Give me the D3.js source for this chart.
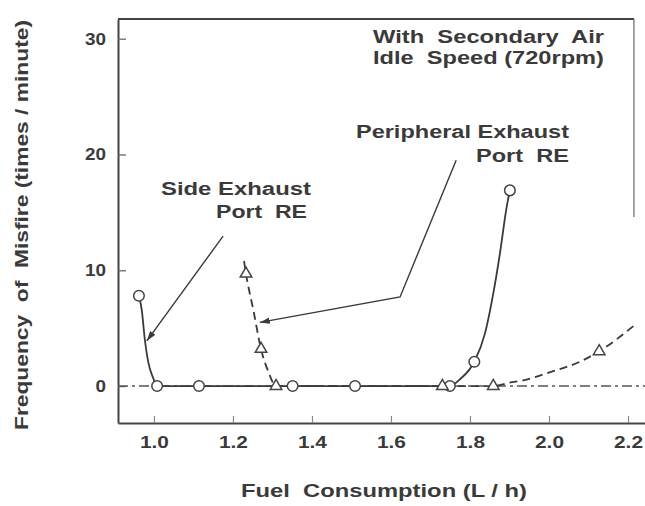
<!DOCTYPE html>
<html><head><meta charset="utf-8">
<script src="https://cdn.jsdelivr.net/npm/d3@7"></script>
<style>
html,body{margin:0;padding:0;background:#fff;}
svg text{font-family:"Liberation Sans",Arial,Helvetica,sans-serif;font-weight:bold;fill:#3a3a3a;white-space:pre;}
</style></head><body>
<svg id="chart" width="645" height="506"></svg>
<script>
// ---- data ----
const xTicks = [1.0, 1.2, 1.4, 1.6, 1.8, 2.0, 2.2];
const yTicks = [0, 10, 20, 30];
const xTickLabels = ["1.0", "1.2", "1.4", "1.6", "1.8", "2.0", "2.2"];
const yTickLabels = ["0", "10", "20", "30"];

// Side Exhaust Port RE (circles, solid curve)
const sideMarkX = [0.962, 1.008, 1.114, 1.351, 1.509, 1.749, 1.811, 1.901];
const sideMarkY = [7.8, 0, 0, 0, 0, 0, 2.1, 16.9];
const sideCurveAX = [0.962, 0.969, 0.977, 0.986, 0.998, 1.008, 1.114, 1.351, 1.509, 1.749, 1.775, 1.811, 1.838, 1.859, 1.876, 1.893, 1.901];
const sideCurveAY = [7.8, 6.6, 4.0, 2.0, 0.7, 0, 0, 0, 0, 0, 0.6, 2.1, 4.55, 8.0, 11.5, 15.5, 16.9];

// Peripheral Exhaust Port RE (triangles, dashed curve)
const periMarkX = [1.233, 1.271, 1.309, 1.730, 1.859, 2.127];
const periMarkY = [9.7, 3.2, 0, 0, 0, 3.0];
const periCurveX = [1.228, 1.233, 1.252, 1.271, 1.290, 1.309, 1.730, 1.859, 1.900, 1.935, 2.003, 2.078, 2.127, 2.218];
const periCurveY = [10.8, 9.7, 6.5, 3.2, 1.2, 0, 0, 0, 0.3, 0.5, 1.2, 2.1, 3.0, 5.3];

// zero reference line
const zeroX = [0.909, 2.243];
const zeroY = [0, 0];

// annotation leader lines (data units)
const sideArrowX = [1.175, 0.982];
const sideArrowY = [12.95, 3.9];
const periArrowX = [1.765, 1.623, 1.268];
const periArrowY = [19.5, 7.7, 5.5];

// annotation texts: [text, x start, x end, baseline y] in data units
const noteText = ["With  Secondary  Air", "Idle  Speed (720rpm)", "Peripheral Exhaust", "Port  RE", "Side Exhaust", "Port  RE"];
const noteX0 = [1.5545, 1.5545, 1.5114, 1.8152, 1.0178, 1.1571];
const noteX1 = [2.1392, 2.1392, 2.0506, 2.0506, 1.3975, 1.3874];
const noteY = [29.67, 27.81, 21.42, 19.35, 16.50, 14.51];

const xTitle = "Fuel  Consumption (L / h)";
const yTitle = "Frequency  of  Misfire (times / minute)";

// ---- drawing ----
const svg = d3.select("#chart");
const ink = "#3a3a3a";
const x = d3.scaleLinear().domain([0.909, 2.243]).range([118, 645]);
const y = d3.scaleLinear().domain([-3.19, 31.7]).range([423, 19]);

svg.append("rect").attr("width", 645).attr("height", 506).attr("fill", "#fff");

const defs = svg.append("defs");
defs.append("marker").attr("id", "arr").attr("markerUnits", "userSpaceOnUse")
  .attr("markerWidth", 11).attr("markerHeight", 8).attr("refX", 10).attr("refY", 4)
  .attr("orient", "auto")
  .append("path").attr("d", "M0,0.8 L10,4 L0,7.2 Z").attr("fill", ink);

// frame: top and right border
svg.append("line").attr("x1", x(0.909)).attr("x2", x(2.215)).attr("y1", y(31.7)).attr("y2", y(31.7))
  .attr("stroke", "#444").attr("stroke-width", 2);
svg.append("line").attr("x1", x(2.215)).attr("x2", x(2.215)).attr("y1", y(31.7)).attr("y2", y(14.6))
  .attr("stroke", "#666").attr("stroke-width", 1.2);

// axes
const xAxis = d3.axisBottom(x).tickValues(xTicks).tickFormat((d, i) => xTickLabels[i])
  .tickSizeInner(-7).tickSizeOuter(0).tickPadding(13);
const gx = svg.append("g").attr("transform", `translate(0,${y(-3.19)})`).call(xAxis);
gx.select(".domain").attr("stroke", "#444").attr("stroke-width", 2.2);
gx.selectAll(".tick line").attr("stroke", "#888").attr("stroke-width", 1.2);
gx.selectAll(".tick text").attr("font-size", 17).attr("fill", ink)
  .attr("textLength", 29).attr("lengthAdjust", "spacingAndGlyphs");

const yAxis = d3.axisLeft(y).tickValues(yTicks).tickFormat((d, i) => yTickLabels[i])
  .tickSizeInner(-8).tickSizeOuter(0).tickPadding(12);
const gy = svg.append("g").attr("transform", `translate(${x(0.909)},0)`).call(yAxis);
gy.select(".domain").attr("stroke", "#444").attr("stroke-width", 2);
gy.selectAll(".tick line").attr("stroke", "#666").attr("stroke-width", 1.3);
gy.selectAll(".tick text").attr("font-size", 17).attr("fill", ink)
  .attr("textLength", (d, i) => yTickLabels[i].length * 10.5).attr("lengthAdjust", "spacingAndGlyphs");

// zero dash-dot line
const line = d3.line().x(d => x(d[0])).y(d => y(d[1]));
svg.append("path").datum(d3.zip(zeroX, zeroY)).attr("d", line)
  .attr("fill", "none").attr("stroke", "#555").attr("stroke-width", 1.6)
  .attr("stroke-dasharray", "10,4,3,4");

// curves
const curve = d3.line().x(d => x(d[0])).y(d => y(d[1])).curve(d3.curveMonotoneX);
svg.append("path").datum(d3.zip(periCurveX, periCurveY)).attr("d", curve)
  .attr("fill", "none").attr("stroke", ink).attr("stroke-width", 1.8)
  .attr("stroke-dasharray", "8,5");
svg.append("path").datum(d3.zip(sideCurveAX, sideCurveAY)).attr("d", curve)
  .attr("fill", "none").attr("stroke", ink).attr("stroke-width", 1.8);

// leader lines
svg.append("path").datum(d3.zip(sideArrowX, sideArrowY)).attr("d", line)
  .attr("fill", "none").attr("stroke", ink).attr("stroke-width", 1.4).attr("marker-end", "url(#arr)");
svg.append("path").datum(d3.zip(periArrowX, periArrowY)).attr("d", line)
  .attr("fill", "none").attr("stroke", ink).attr("stroke-width", 1.4).attr("marker-end", "url(#arr)");

// markers
svg.append("g").selectAll("circle").data(d3.zip(sideMarkX, sideMarkY)).join("circle")
  .attr("cx", d => x(d[0])).attr("cy", d => y(d[1])).attr("r", 5.3)
  .attr("fill", "#fff").attr("stroke", "#444").attr("stroke-width", 1.5);
const tri = d3.symbol().type(d3.symbolTriangle).size(58);
svg.append("g").selectAll("path").data(d3.zip(periMarkX, periMarkY)).join("path")
  .attr("transform", d => `translate(${x(d[0])},${y(d[1])})`).attr("d", tri)
  .attr("fill", "#fff").attr("stroke", "#444").attr("stroke-width", 1.5);

// annotation texts
noteText.forEach((t, i) => {
  svg.append("text").attr("x", x(noteX0[i])).attr("y", y(noteY[i]))
    .attr("font-size", 18).attr("textLength", x(noteX1[i]) - x(noteX0[i]))
    .attr("lengthAdjust", "spacingAndGlyphs").text(t);
});

// axis titles
svg.append("text").attr("x", 241).attr("y", 497).attr("font-size", 18)
  .attr("textLength", 286).attr("lengthAdjust", "spacingAndGlyphs").text(xTitle);
svg.append("text").attr("transform", "translate(28,430) rotate(-90)").attr("x", 0).attr("y", 0)
  .attr("font-size", 18).attr("textLength", 410).attr("lengthAdjust", "spacingAndGlyphs").text(yTitle);
</script>
</body></html>
